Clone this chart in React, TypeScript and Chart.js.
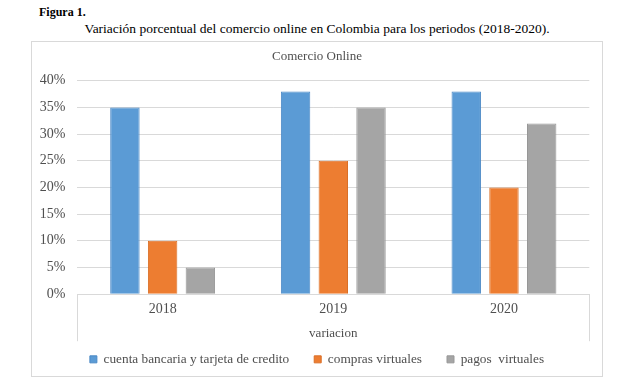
import React, { useEffect, useRef } from 'react';
import { Chart, registerables } from 'chart.js';

Chart.register(...registerables);

const categories = ['2018', '2019', '2020'];
const cuentaBancaria = [35, 38, 38];
const comprasVirtuales = [10, 25, 20];
const pagosVirtuales = [5, 35, 32];
const seriesNames = ['cuenta bancaria y tarjeta de credito', 'compras virtuales', 'pagos  virtuales'];
const seriesFill = ['#5B9BD5', '#ED7D31', '#A5A5A5'];
const seriesBorder = ['#4A88C6', '#DA6F27', '#979797'];
const yMax = 40;
const yStep = 5;
const chartTitle = 'Comercio Online';
const xTitle = 'variacion';
const figureLabel = 'Figura 1.';
const figureCaption = 'Variación porcentual del comercio online en Colombia para los periodos (2018-2020).';

const FONT = "'Liberation Serif', serif";
const GRID = '#D9D9D9';
const TEXT = '#4F4F4F';

Chart.defaults.font.family = FONT;

const bracketPlugin = {
  id: 'bracket',
  afterDraw(chart: any) {
    const { ctx, chartArea } = chart;
    ctx.save();
    ctx.strokeStyle = GRID;
    ctx.lineWidth = 1;
    ctx.beginPath();
    for (const px of [chartArea.left, chartArea.right]) {
      const p = Math.round(px) + 0.5;
      ctx.moveTo(p, chartArea.bottom);
      ctx.lineTo(p, chartArea.bottom + 47);
    }
    ctx.stroke();
    ctx.restore();
  },
};

export default function App() {
  const ref = useRef<HTMLCanvasElement>(null);

  useEffect(() => {
    if (!ref.current) return;
    const data = [cuentaBancaria, comprasVirtuales, pagosVirtuales];
    const chart = new Chart(ref.current, {
      type: 'bar',
      data: {
        labels: categories,
        datasets: data.map((d, i) => ({
          label: seriesNames[i],
          data: d,
          backgroundColor: seriesFill[i],
          borderColor: seriesBorder[i],
          borderWidth: 1,
          categoryPercentage: 0.663,
          barPercentage: 0.78,
        })),
      },
      options: {
        responsive: false,
        animation: false,
        devicePixelRatio: 1,
        layout: { padding: { left: 0, right: 0, top: 0, bottom: 0 } },
        plugins: {
          title: {
            display: true,
            text: chartTitle,
            color: TEXT,
            font: { family: FONT, size: 13, weight: 'normal', lineHeight: 1.2 },
            padding: { top: 6.9, bottom: 16.2 },
          },
          legend: {
            position: 'bottom',
            labels: {
              boxWidth: 7,
              boxHeight: 7,
              padding: 25,
              color: TEXT,
              font: { family: FONT, size: 13.3 },
            },
          },
          tooltip: { enabled: false },
        },
        scales: {
          x: {
            grid: { display: false, drawTicks: false },
            border: { display: true, color: GRID },
            ticks: { color: TEXT, font: { family: FONT, size: 14 }, padding: 7.1 },
            title: {
              display: true,
              text: xTitle,
              color: TEXT,
              font: { family: FONT, size: 13, lineHeight: 1.2 },
              padding: { top: 0, bottom: -13.8 },
            },
            afterFit(scale: any) {
              scale.height = 33.5;
            },
          },
          y: {
            min: 0,
            max: yMax,
            grid: { color: GRID, drawTicks: false },
            border: { display: false },
            ticks: {
              stepSize: yStep,
              color: TEXT,
              padding: 12,
              font: { family: FONT, size: 14 },
              callback: (v: any) => `${v}%`,
            },
            afterFit(scale: any) {
              scale.width = 45.3;
            },
          },
          yRightSpace: {
            position: 'right',
            display: true,
            min: 0,
            max: yMax,
            grid: { display: false, drawTicks: false },
            border: { display: false },
            ticks: { display: false },
            afterFit(scale: any) {
              scale.width = 12.7;
            },
          },
        },
      },
      plugins: [bracketPlugin],
    });
    let alive = true;
    const fonts = (document as any).fonts;
    if (fonts && fonts.load) {
      Promise.all([
        fonts.load("13px 'Liberation Serif'"),
        fonts.load("14px 'Liberation Serif'"),
      ]).then(() => {
        if (alive) chart.update();
      }).catch(() => {});
    }
    return () => {
      alive = false;
      chart.destroy();
    };
  }, []);

  return (
    <div style={{ position: 'absolute', left: 0, top: 0, width: 622, height: 386, background: '#fff', fontFamily: FONT }}>
      <div style={{ position: 'absolute', left: 39, top: 5, fontSize: 12, lineHeight: '15px', fontWeight: 'bold', color: '#000' }}>
        {figureLabel}
      </div>
      <div style={{ position: 'absolute', left: 31, top: 21, width: 572, textAlign: 'center', fontSize: 13.5, lineHeight: '16px', color: '#000', whiteSpace: 'nowrap' }}>
        {figureCaption}
      </div>
      <div style={{ position: 'absolute', left: 31, top: 41, width: 570, height: 334, border: `1px solid ${GRID}` }}>
        <canvas ref={ref} width={570} height={334} style={{ display: 'block', width: 570, height: 334 }} />
      </div>
    </div>
  );
}
